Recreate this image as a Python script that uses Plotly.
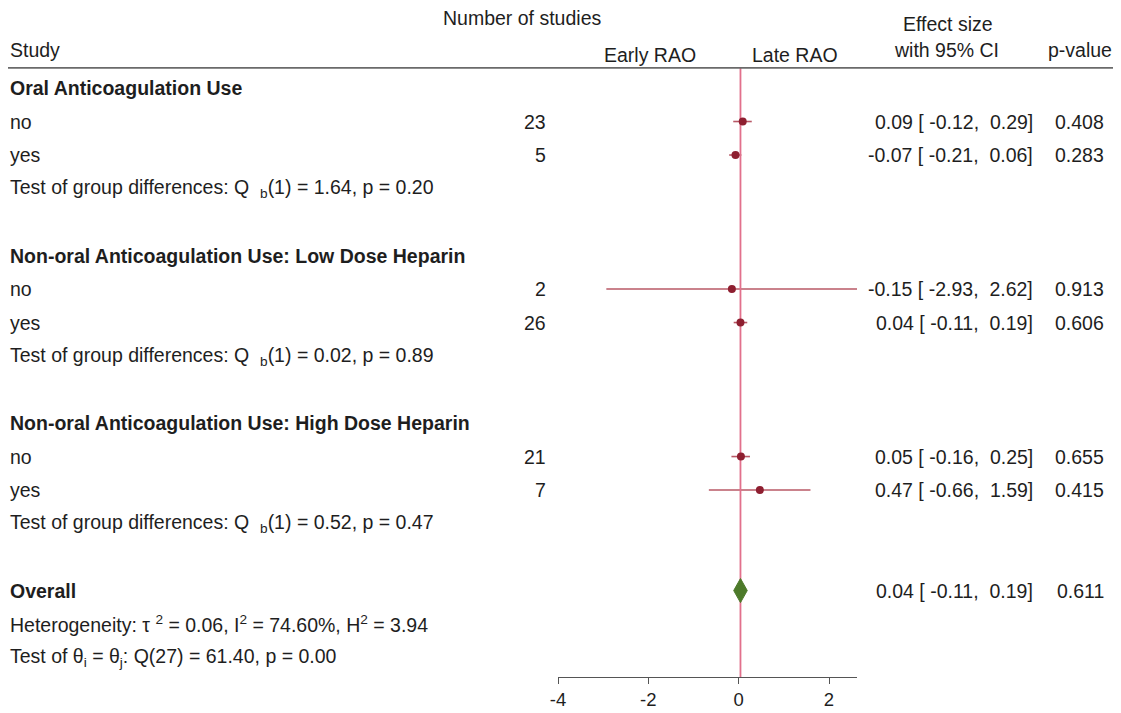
import plotly.graph_objects as go

# ---- data -------------------------------------------------------------
groups = [
    "Oral Anticoagulation Use",
    "Non-oral Anticoagulation Use: Low Dose Heparin",
    "Non-oral Anticoagulation Use: High Dose Heparin",
]
subgroup_labels = ["no", "yes", "no", "yes", "no", "yes"]
n_studies = [23, 5, 2, 26, 21, 7]
effect = [0.09, -0.07, -0.15, 0.04, 0.05, 0.47]
ci_low = [-0.12, -0.21, -2.93, -0.11, -0.16, -0.66]
ci_high = [0.29, 0.06, 2.62, 0.19, 0.25, 1.59]
p_values = ["0.408", "0.283", "0.913", "0.606", "0.655", "0.415"]
group_tests = [
    "Q\u00a0 <sub>b</sub>(1) = 1.64, p = 0.20",
    "Q\u00a0 <sub>b</sub>(1) = 0.02, p = 0.89",
    "Q\u00a0 <sub>b</sub>(1) = 0.52, p = 0.47",
]
overall_effect = 0.04
overall_low = -0.11
overall_high = 0.19
overall_p = "0.611"
heterogeneity = "Heterogeneity: τ <sup>2</sup> = 0.06, I<sup>2</sup> = 74.60%, H<sup>2</sup> = 3.94"
theta_test = "Test of θ<sub>i</sub> = θ<sub>j</sub>: Q(27) = 61.40, p = 0.00"
x_ticks = [-4, -2, 0, 2]

# ---- layout helpers ---------------------------------------------------
W, H = 1121, 713
FONT = "Liberation Sans, Arial, sans-serif"
TXT = "#1e1e1e"
FS = 19.5


def px(x):
    return x / W


def es_text(est, lo, hi):
    return f"{est:.2f} [ {lo:.2f},\u00a0 {hi:.2f}]"


# row positions: each group takes header, two subgroup rows, test line, gap
rows_study = []
rows_header = []
rows_test = []
r = 0
for g in range(3):
    rows_header.append(r)
    rows_study.append(r + 1)
    rows_study.append(r + 2)
    rows_test.append(r + 3)
    r += 5
row_overall = r
row_het = r + 1
row_theta = r + 2

fig = go.Figure()

# confidence intervals
for y, lo, hi in zip(rows_study, ci_low, ci_high):
    fig.add_trace(go.Scatter(
        x=[lo, hi], y=[y, y], mode="lines",
        line=dict(color="#b85866", width=1.6), hoverinfo="skip"))

# reference line at the overall effect
fig.add_trace(go.Scatter(
    x=[overall_effect, overall_effect], y=[-0.6, 17.58], mode="lines",
    line=dict(color="#e2708c", width=1.8), hoverinfo="skip"))

# point estimates
fig.add_trace(go.Scatter(
    x=effect, y=rows_study, mode="markers",
    marker=dict(color="#8e1f30", size=8), hoverinfo="skip"))

# overall diamond
dh = 0.36
fig.add_trace(go.Scatter(
    x=[overall_low, overall_effect, overall_high, overall_effect, overall_low],
    y=[row_overall, row_overall - dh, row_overall, row_overall + dh, row_overall],
    mode="lines", fill="toself", fillcolor="#4d7a2a",
    line=dict(color="#4d7a2a", width=1), hoverinfo="skip"))

ann = []


def text(x, y, s, anchor="left", bold=False, yref="y", size=FS):
    if bold:
        s = "<b>" + s + "</b>"
    ann.append(dict(x=px(x), y=y, xref="paper", yref=yref, text=s,
                    xanchor=anchor, yanchor="middle", showarrow=False,
                    borderpad=0, font=dict(family=FONT, size=size, color=TXT)))


# column headers
text(522, -2.1, "Number of studies", "center")
text(9, -1.13, "Study")
text(650, -0.98, "Early RAO", "center")
text(795, -0.98, "Late RAO", "center")
text(948, -1.9, "Effect size", "center")
text(946, -1.13, "with 95% CI", "center")
text(1080, -1.13, "p-value", "center")

for g, name in enumerate(groups):
    text(9, rows_header[g], name, bold=True)
    text(9, rows_test[g], "Test of group differences: " + group_tests[g])

for i, y in enumerate(rows_study):
    text(9, y, subgroup_labels[i])
    text(547, y, str(n_studies[i]), "right")
    text(1034, y, es_text(effect[i], ci_low[i], ci_high[i]), "right")
    text(1105, y, p_values[i], "right")

text(9, row_overall, "Overall", bold=True)
text(1034, row_overall, es_text(overall_effect, overall_low, overall_high), "right")
text(1105, row_overall, overall_p, "right")
text(9, row_het, heterogeneity)
text(9, row_theta, theta_test)

# header rule
shapes = [dict(type="line", xref="paper", yref="y", x0=px(8), x1=px(1113),
               y0=-0.6, y1=-0.6, line=dict(color="#6a6a6a", width=1.6))]

x0_px, x1_px = 558.0, 857.0
fig.update_layout(
    width=W, height=H,
    margin=dict(l=0, r=0, t=0, b=0, pad=0, autoexpand=False),
    paper_bgcolor="white", plot_bgcolor="white", showlegend=False,
    annotations=ann, shapes=shapes,
    xaxis=dict(domain=[px(x0_px), px(x1_px)], range=[-4, 2.62],
               automargin=False,
               showgrid=False, zeroline=False, showline=True,
               linecolor="#555555", linewidth=1.4,
               ticks="outside", ticklen=6, tickcolor="#555555", tickwidth=1.4,
               tickvals=x_ticks, ticktext=[str(t) for t in x_ticks],
               tickfont=dict(family=FONT, size=18.5, color=TXT)),
    yaxis=dict(domain=[36 / H, 1], range=[17.58, -2.627], visible=False,
               automargin=False, showgrid=False, zeroline=False),
)

fig.write_html("out.html")
